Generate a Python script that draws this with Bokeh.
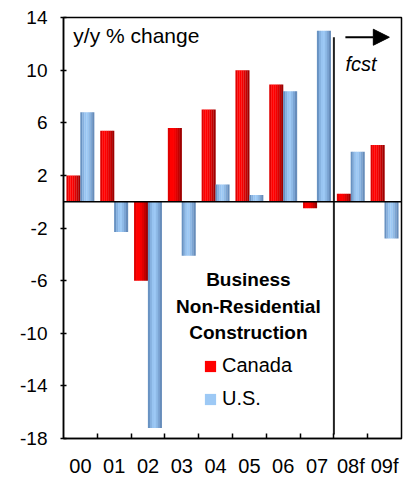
import numpy as np
from bokeh.plotting import figure
from bokeh.models import (Range1d, FixedTicker, Span, Arrow, NormalHead, Legend,
                          LegendItem)
from bokeh.embed import file_html
from bokeh.resources import INLINE
from bokeh.core.properties import value

# ---- data ----
years = ["00", "01", "02", "03", "04", "05", "06", "07", "08f", "09f"]
canada = [2.0, 5.4, -6.0, 5.6, 7.0, 10.0, 8.9, -0.5, 0.6, 4.3]
us = [6.8, -2.3, -17.2, -4.1, 1.3, 0.5, 8.4, 13.0, 3.8, -2.8]
y_ticks = [-18, -14, -10, -6, -2, 2, 6, 10, 14]
y_tick_labels = ["-18", "-14", "-10", "-6", "-2", "2", "6", "10", "14"]
title_lines = ["Business", "Non-Residential", "Construction"]
series_names = ["Canada", "U.S."]
unit_label = "y/y % change"
forecast_label = "fcst"

FONT = "Liberation Sans"

p = figure(width=404, height=479, x_range=Range1d(0, 10), y_range=Range1d(-18, 14),
           output_backend="svg", toolbar_location=None,
           min_border_left=63, min_border_right=3, min_border_top=17, min_border_bottom=39)
p.xgrid.visible = False
p.ygrid.visible = False
p.outline_line_color = "black"
p.outline_line_width = 1.5
p.background_fill_color = "white"
p.border_fill_color = "white"

xc = np.arange(len(years)) + 0.5
bar_w = 0.41
canada_shades = ["#e00000", "#ff0000", "#ff0000", "#f40000", "#de0000", "#c20000", "#a00000"]
us_shades = ["#6892c2", "#86b1e0", "#98c4f1", "#9dc9f5", "#8fbae7", "#7ca5d4", "#678dbb"]


def draw(values, offset, shades):
    rs = []
    sw = bar_w / len(shades)
    for k, c in enumerate(shades):
        x = xc + offset - bar_w / 2 + sw * (k + 0.5)
        r = p.vbar(x=x, width=sw * 1.1, top=values, bottom=0,
                   fill_color=c, line_color=None)
        rs.append(r)
    return rs


rc = draw(canada, -0.205, canada_shades)
ru = draw(us, 0.205, us_shades)

# zero line
p.add_layout(Span(location=0, dimension="width", line_color="black", line_width=1.5))

# forecast divider
p.segment(x0=[8.0], y0=[-17.7], x1=[8.0], y1=[12.5], line_color="#222222", line_width=2)
p.add_layout(Arrow(x_start=8.34, y_start=12.5, x_end=9.64, y_end=12.5,
                   line_color="black", line_width=2,
                   end=NormalHead(size=16, fill_color="black", line_color="black")))
p.text(x=[8.34], y=[10.5], text=[forecast_label], text_font=value(FONT),
       text_font_style="italic", text_font_size="20px", text_align="left",
       text_baseline="middle", text_color="black")

p.text(x=[0.29], y=[12.65], text=[unit_label], text_font=value(FONT),
       text_font_size="21px", text_align="left", text_baseline="middle", text_color="black")

p.text(x=[5.47] * 3, y=[-5.9, -7.93, -9.92], text=title_lines, text_font=value(FONT),
       text_font_style="bold", text_font_size="19px", text_align="center",
       text_baseline="middle", text_color="black")

legend = Legend(items=[LegendItem(label=series_names[0], renderers=[rc[1]]),
                       LegendItem(label=series_names[1], renderers=[ru[3]])],
                location=(140, 28), border_line_color=None, background_fill_alpha=0,
                padding=0, margin=0, glyph_width=14, glyph_height=14, label_height=20,
                spacing=10, label_standoff=5, label_text_font=FONT,
                label_text_font_size="20px", label_text_color="black")
p.add_layout(legend)

# axes
xa = p.xaxis[0]
xa.ticker = FixedTicker(ticks=list(xc), minor_ticks=list(range(1, 10)))
xa.major_label_overrides = {float(x): y for x, y in zip(xc, years)}
xa.major_tick_in = 0
xa.major_tick_out = 0
xa.minor_tick_in = 5
xa.minor_tick_out = 0
xa.minor_tick_line_color = "black"
xa.minor_tick_line_width = 1.5
xa.major_label_standoff = 16
xa.major_label_text_font = FONT
xa.major_label_text_font_size = "20px"
xa.major_label_text_color = "black"
xa.axis_line_color = "black"
xa.axis_line_width = 1.5

ya = p.yaxis[0]
ya.ticker = FixedTicker(ticks=y_ticks, minor_ticks=[])
ya.major_label_overrides = {float(t): s for t, s in zip(y_ticks, y_tick_labels)}
ya.major_tick_in = 3
ya.major_tick_out = 3
ya.major_tick_line_color = "black"
ya.major_tick_line_width = 1.5
ya.major_label_standoff = 13
ya.major_label_text_font = FONT
ya.major_label_text_font_size = "19px"
ya.major_label_text_color = "black"
ya.axis_line_color = "black"
ya.axis_line_width = 1.5

open("out.html", "w").write(file_html(p, INLINE))
